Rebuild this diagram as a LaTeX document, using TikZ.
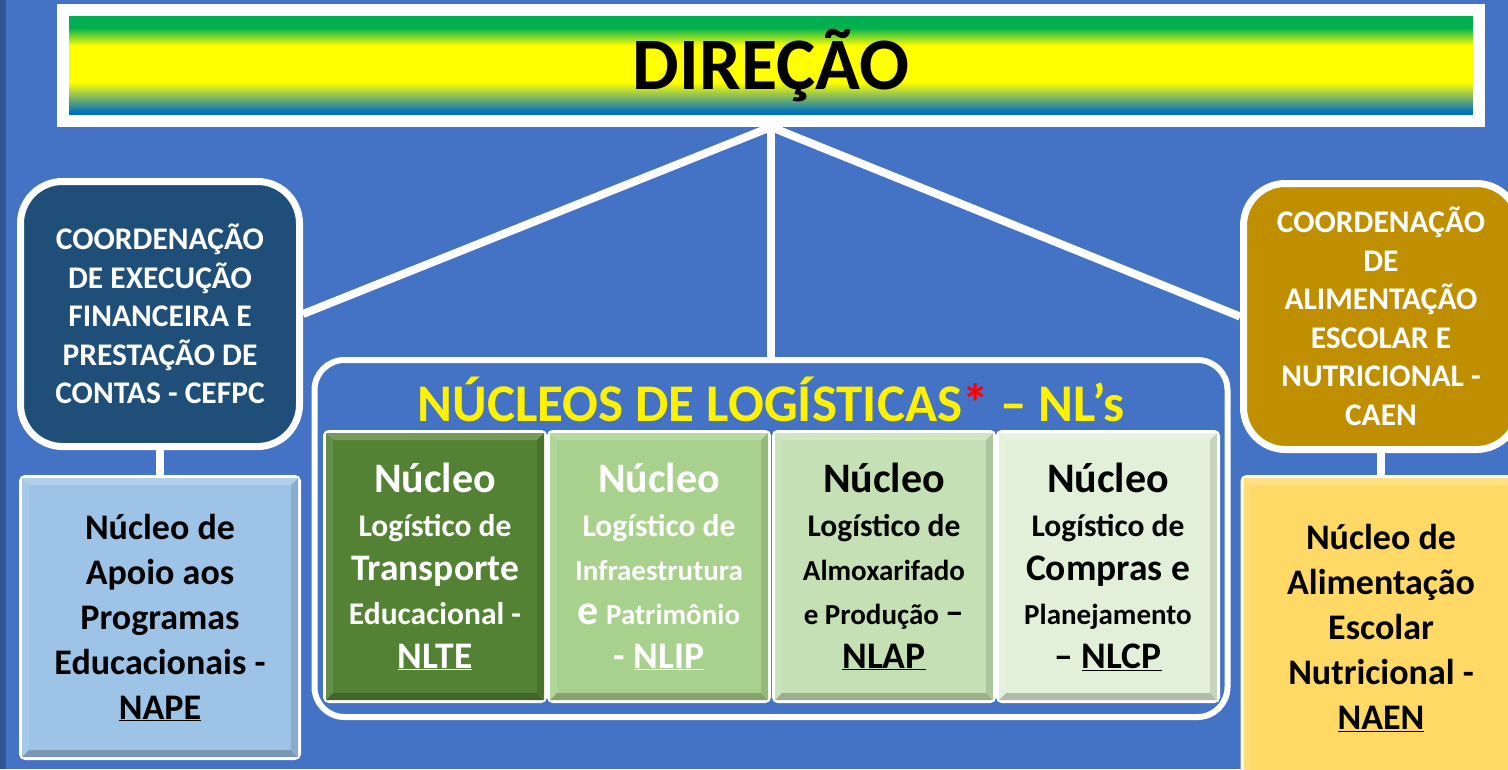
\documentclass[tikz,border=0pt]{standalone}
\usepackage{fontspec}
\setmainfont{Carlito}
\usetikzlibrary{calc}

\definecolor{fundo}{HTML}{4472C4}
\definecolor{faixaesq}{HTML}{2F5597}
\definecolor{verdefx}{HTML}{00B050}
\definecolor{azulfx}{HTML}{0070C0}
\definecolor{cefpccor}{HTML}{1F4E79}
\definecolor{caencor}{HTML}{BF8F00}
\definecolor{napecor}{HTML}{9DC3E6}
\definecolor{naencor}{HTML}{FFD966}
\definecolor{nltecor}{HTML}{548235}
\definecolor{nlipcor}{HTML}{A9D18E}
\definecolor{nlapcor}{HTML}{C5E0B4}
\definecolor{nlcpcor}{HTML}{E2F0D9}

\pgfdeclareverticalshading{faixa}{100bp}{color(0bp)=(azulfx); color(29bp)=(azulfx); color(42.5bp)=(yellow); color(59bp)=(yellow); color(67bp)=(verdefx); color(100bp)=(verdefx)}

\newcommand{\fsnuc}{\fontsize{42}{44}\selectfont}
\newcommand{\fsmed}{\fontsize{37.5}{44}\selectfont}
\newcommand{\fspeq}{\fontsize{31.5}{44}\selectfont}
\newcommand{\fsmin}{\fontsize{29}{44}\selectfont}

% chanfro dos quadros
\newcommand{\chanfro}[2]{%
\fill[#2!80!white] ($(#1.north west)+(3,3)$) -- ($(#1.north east)+(-3,3)$) -- ($(#1.north east)+(-10,10)$) -- ($(#1.north west)+(10,10)$) -- cycle;
\fill[#2!90!white] ($(#1.north west)+(3,3)$) -- ($(#1.north west)+(10,10)$) -- ($(#1.south west)+(10,-10)$) -- ($(#1.south west)+(3,-3)$) -- cycle;
\fill[#2!78!black] ($(#1.south west)+(3,-3)$) -- ($(#1.south east)+(-3,-3)$) -- ($(#1.south east)+(-10,-10)$) -- ($(#1.south west)+(10,-10)$) -- cycle;
\fill[#2!88!black] ($(#1.north east)+(-3,3)$) -- ($(#1.south east)+(-3,-3)$) -- ($(#1.south east)+(-10,-10)$) -- ($(#1.north east)+(-10,10)$) -- cycle;
}

\begin{document}
\begin{tikzpicture}[x=1pt,y=-1pt,
  liga/.style={white, line width=8pt},
  coord/.style={draw=white, line width=7pt, rounded corners=42pt, text=white, align=center, inner sep=0pt, font=\bfseries\fontsize{31.5}{38.5}\selectfont},
  nucleo/.style={draw=white, line width=7pt, rounded corners=3pt, align=center, inner sep=0pt, font=\bfseries\fontsize{36}{45}\selectfont},
  nl/.style={draw=white, line width=6pt, rounded corners=3pt, minimum width=218pt, minimum height=267pt, align=center, inner sep=0pt, font=\bfseries\fontsize{31.5}{44}\selectfont}]
\useasboundingbox (0,0) rectangle (1508,769);
\clip (0,0) rectangle (1508,769);
%fundo
\fill[fundo] (0,0) rectangle (1508,769);
\fill[faixaesq] (0,0) rectangle (6,769);
%Direção
\node[draw=white, line width=12pt, shade, shading=faixa, minimum width=1416pt, minimum height=111pt, inner sep=0pt] (dir) at (771,65.5) {\fontsize{74}{80}\selectfont\bfseries DIREÇÃO};
%coordenações
\node[coord, fill=cefpccor, minimum width=279pt, minimum height=265pt] (cefpc) at (160,314) {COORDENAÇÃO\\DE EXECUÇÃO\\FINANCEIRA E\\PRESTAÇÃO DE\\CONTAS - CEFPC};
\node[coord, fill=caencor, minimum width=275pt, minimum height=266pt] (caen) at (1381,316.5) {COORDENAÇÃO\\DE\\ALIMENTAÇÃO\\ESCOLAR E\\NUTRICIONAL -\\CAEN};
%núcleos das coordenações
\node[nucleo, fill=napecor, minimum width=275pt, minimum height=278pt] (nape) at (160,617.5) {Núcleo de\\Apoio aos\\Programas\\Educacionais -\\\underline{NAPE}};
\node[nucleo, fill=naencor, minimum width=274pt, minimum height=299pt] (naen) at (1381,628) {Núcleo de\\Alimentação\\Escolar\\Nutricional -\\\underline{NAEN}};
\chanfro{nape}{napecor}
\chanfro{naen}{naencor}
%NL's
\node[draw=white, line width=6pt, rounded corners=30pt, minimum width=913pt, minimum height=357pt] (nls) at (771,538.5) {};
\node[text=yellow, font=\bfseries\fontsize{53}{60}\selectfont] (nltit) at (771,399) {NÚCLEOS DE LOGÍSTICAS\textcolor{red}{*} – NL’s};
\node[nl, fill=nltecor, text=white] (nlte) at (435,566.5) {\fsnuc Núcleo\\\fspeq Logístico de\\\fsmed Transporte\\\fspeq Educacional -\\\fsmed\underline{NLTE}};
\node[nl, fill=nlipcor, text=white] (nlip) at (659,566.5) {\fsnuc Núcleo\\\fspeq Logístico de\\\fsmin Infraestrutura\\{\fsnuc e} \fsmin Patrimônio\\\fsmed - \underline{NLIP}};
\node[nl, fill=nlapcor] (nlap) at (884,566.5) {\fsnuc Núcleo\\\fspeq Logístico de\\\fsmin Almoxarifado\\\fsmin e Produção {\fsmed –}\\\fsmed\underline{NLAP}};
\node[nl, fill=nlcpcor] (nlcp) at (1108,566.5) {\fsnuc Núcleo\\\fspeq Logístico de\\\fsmed Compras e\\\fsmin Planejamento\\\fsmed – \underline{NLCP}};
\chanfro{nlte}{nltecor}
\chanfro{nlip}{nlipcor}
\chanfro{nlap}{nlapcor}
\chanfro{nlcp}{nlcpcor}
%ligações
\draw[liga] (dir.south) -- (cefpc.east);
\draw[liga] (dir.south) -- (nls.north);
\draw[liga] (dir.south) -- (caen.west);
\draw[liga] (cefpc.south) -- (nape.north);
\draw[liga] (caen.south) -- (naen.north);
\end{tikzpicture}
\end{document}
